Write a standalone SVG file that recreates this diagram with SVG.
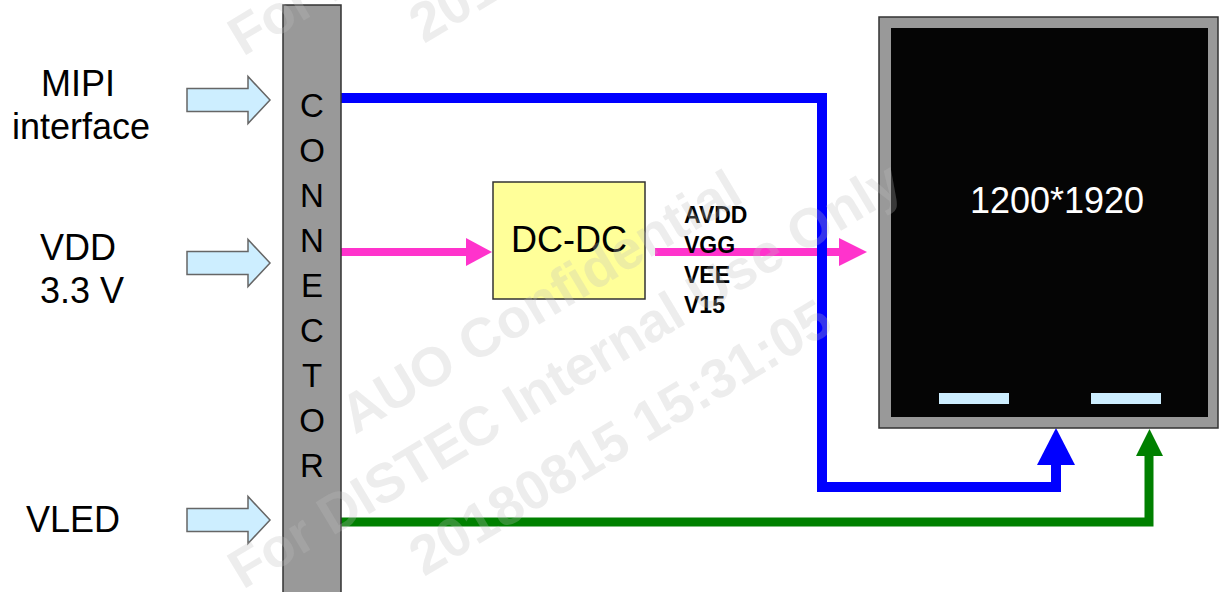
<svg xmlns="http://www.w3.org/2000/svg" width="1222" height="592" viewBox="0 0 1222 592">
<style>
.lbl{font-family:"Liberation Sans",Arial,sans-serif;font-size:36px;fill:#000;text-anchor:middle}
.con{font-family:"Liberation Sans",Arial,sans-serif;font-size:33px;fill:#000;text-anchor:middle}
.sig{font-family:"Liberation Sans",Arial,sans-serif;font-size:23px;font-weight:bold;fill:#000}
.wm{font-family:"Liberation Sans",Arial,sans-serif;font-size:55px;font-weight:bold;fill:#c0c0c0;fill-opacity:0.28}
.in{fill:#cdeeff;stroke:#666;stroke-width:1.5}
</style>
<defs>
<path id="inarrow" d="M0,-11.5 H61 V-23.5 L83,0 L61,23.5 V11.5 H0 Z"/>
</defs>
<rect width="1222" height="592" fill="#fff"/>

<g id="connectors">
<path d="M341,252 H470" stroke="#ff33cc" stroke-width="8" fill="none"/>
<polygon points="466,238 492,252 466,266" fill="#ff33cc"/>
<path d="M655,252 H842" stroke="#ff33cc" stroke-width="8" fill="none"/>
<polygon points="839,238 867,252 839,266" fill="#ff33cc"/>
<path d="M341,98 H822 V487 H1056 V462" stroke="#0000ff" stroke-width="10" fill="none" stroke-linejoin="miter"/>
<polygon points="1037,465 1056,428 1075,465" fill="#0000ff"/>
<path d="M341,522 H1149 V454" stroke="#008000" stroke-width="9" fill="none" stroke-linejoin="miter"/>
<polygon points="1136,456 1149.5,429 1163,456" fill="#008000"/>
</g>

<g id="mipi">
<use href="#inarrow" class="in" transform="translate(187,100)"/>
<text class="lbl" x="78" y="96">MIPI</text>
<text class="lbl" x="81" y="139">interface</text>
</g>
<g id="vdd">
<use href="#inarrow" class="in" transform="translate(187,263)"/>
<text class="lbl" x="78" y="260">VDD</text>
<text class="lbl" x="82" y="303">3.3 V</text>
</g>
<g id="vled">
<use href="#inarrow" class="in" transform="translate(187,520)"/>
<text class="lbl" x="73" y="532">VLED</text>
</g>

<g id="connector">
<rect x="283" y="5" width="58" height="600" fill="#999999" stroke="#333" stroke-width="1.5"/>
<text class="con" x="312" y="117">C</text>
<text class="con" x="312" y="162">O</text>
<text class="con" x="312" y="207">N</text>
<text class="con" x="312" y="252">N</text>
<text class="con" x="312" y="297">E</text>
<text class="con" x="312" y="342">C</text>
<text class="con" x="312" y="387">T</text>
<text class="con" x="312" y="432">O</text>
<text class="con" x="312" y="477">R</text>
</g>

<g id="dcdc">
<rect x="493" y="182" width="152" height="117" fill="#ffff99" stroke="#333" stroke-width="1.5"/>
<text class="lbl" x="569" y="252">DC-DC</text>
</g>

<g id="signals">
<text class="sig" x="684" y="223">AVDD</text>
<text class="sig" x="684" y="253">VGG</text>
<text class="sig" x="684" y="283">VEE</text>
<text class="sig" x="684" y="313">V15</text>
</g>

<g id="display">
<rect x="879" y="17" width="339" height="411" fill="#999999" stroke="#333" stroke-width="1.5"/>
<rect x="891" y="28" width="317" height="389" fill="#050505"/>
<text class="lbl" x="1057" y="213" style="fill:#fff">1200*1920</text>
<rect x="939" y="393" width="70" height="11" fill="#cdeeff"/>
<rect x="1091" y="393" width="70" height="11" fill="#cdeeff"/>
</g>

<g id="watermark">
<text class="wm" transform="translate(243,590) rotate(-31)">For DISTEC Internal Use Only</text>
<text class="wm" transform="translate(355,435) rotate(-31)">AUO Confidential</text>
<text class="wm" transform="translate(424,577) rotate(-31)">20180815 15:31:05</text>
<text class="wm" transform="translate(243,57) rotate(-31)">For DISTEC Internal Use Only</text>
<text class="wm" transform="translate(424,44) rotate(-31)">20180815 15:31:05</text>
</g>
</svg>
